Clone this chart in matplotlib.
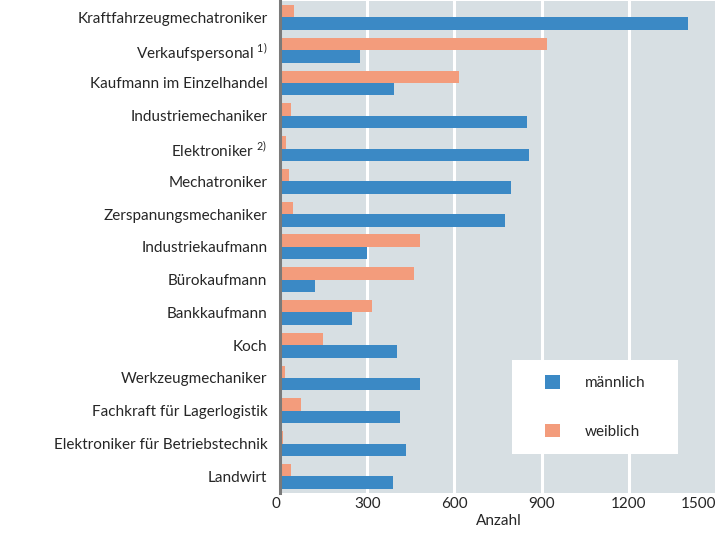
import matplotlib
matplotlib.use("Agg")
import matplotlib.pyplot as plt
from matplotlib.patches import Patch, Rectangle
import numpy as np

plt.rcParams['font.family'] = ['Lato', 'DejaVu Sans']
plt.rcParams['mathtext.fontset'] = 'custom'
plt.rcParams['mathtext.rm'] = 'Lato'

categories = [
    "Kraftfahrzeugmechatroniker",
    "Verkaufspersonal $^{\\mathrm{1)}}$",
    "Kaufmann im Einzelhandel",
    "Industriemechaniker",
    "Elektroniker $^{\\mathrm{2)}}$",
    "Mechatroniker",
    "Zerspanungsmechaniker",
    "Industriekaufmann",
    "Bürokaufmann",
    "Bankkaufmann",
    "Koch",
    "Werkzeugmechaniker",
    "Fachkraft für Lagerlogistik",
    "Elektroniker für Betriebstechnik",
    "Landwirt",
]
maennlich = [1404, 275, 391, 848, 858, 793, 773, 299, 120, 247, 402, 481, 412, 433, 388]
weiblich = [48, 917, 615, 38, 21, 31, 45, 481, 460, 316, 148, 17, 72, 10, 38]
xticks = [0, 300, 600, 900, 1200, 1500]

blue = "#3b89c5"
orange = "#f39c7c"
bg = "#d7dfe3"

fig = plt.figure(figsize=(7.25, 5.33), dpi=100)
ax = fig.add_axes([0.3862, 0.0756, 0.6023, 0.9225])
ax.set_facecolor(bg)

y = np.arange(len(categories))
h = 0.38
ax.barh(y - h / 2, weiblich, height=h, color=orange, label="weiblich", zorder=3)
ax.barh(y + h / 2, maennlich, height=h, color=blue, label="männlich", zorder=3)

ax.set_ylim(len(categories) - 0.5, -0.5)
ax.set_xlim(0, 1502)
ax.set_yticks(y)
ax.set_yticklabels(categories, fontsize=11, color="#262626")
ax.set_xticks(xticks)
ax.set_xticklabels([str(t) for t in xticks], fontsize=11, color="#262626")
xlabels = ax.get_xticklabels()
xlabels[-1].set_horizontalalignment('right')
xlabels[0].set_horizontalalignment('right')
ax.tick_params(axis='y', length=0, pad=9)
ax.tick_params(axis='x', length=0, pad=3)
ax.set_xlabel("Anzahl", fontsize=11, color="#262626", labelpad=2)

ax.grid(axis='x', color='white', linewidth=2.2, zorder=1)
ax.set_axisbelow(True)
for s in ['top', 'right', 'bottom']:
    ax.spines[s].set_visible(False)
ax.spines['left'].set_color('#7a7a7a')
ax.spines['left'].set_linewidth(2.2)
ax.spines['left'].set_zorder(4)

# legend box
ax.add_patch(Rectangle((0.531, 0.079), 0.38, 0.191, transform=ax.transAxes,
                       facecolor='white', edgecolor='none', zorder=5))
handles = [Patch(facecolor=blue, label="männlich"), Patch(facecolor=orange, label="weiblich")]
leg = ax.legend(handles=handles, loc='center', bbox_to_anchor=(0.531, 0.079, 0.38, 0.191),
                frameon=False, fontsize=11, handlelength=1.0, handleheight=1.0,
                handletextpad=1.6, labelspacing=2.2, borderpad=0)
leg.set_zorder(6)
for t in leg.get_texts():
    t.set_color("#262626")

fig.savefig("out.png", dpi=100)
